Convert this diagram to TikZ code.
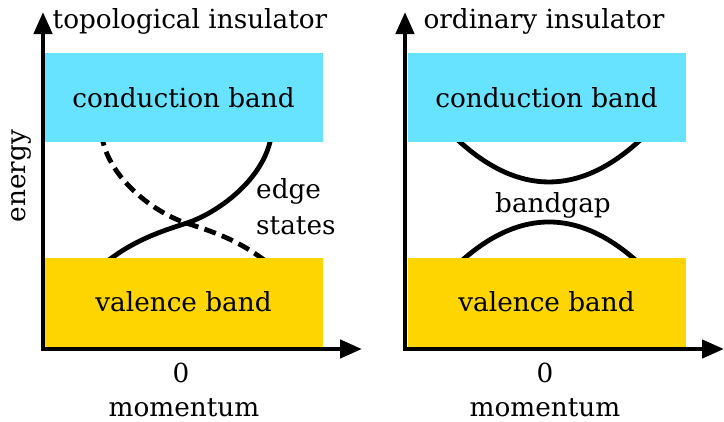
\documentclass[tikz,border=0pt]{standalone}
\usepackage{fontspec}
\setmainfont{DejaVu Serif}
\usetikzlibrary{arrows.meta}
\definecolor{condband}{RGB}{104,227,255}
\definecolor{valband}{RGB}{255,213,0}
\begin{document}
\begin{tikzpicture}[x=1pt,y=-1pt,
  lbl/.style={font=\fontsize{26.3}{30}\selectfont, inner sep=0pt},
  axes/.style={line width=4.5pt, line join=miter,
    {Triangle[length=22pt,width=18pt]}-{Triangle[length=22pt,width=18pt]}},
  curve/.style={line width=4.8pt},
  dashcurve/.style={line width=4.8pt, dash pattern=on 12pt off 6.5pt},
  bandbox/.style={lbl, minimum width=278pt, minimum height=89pt},
]
\useasboundingbox (0,0) rectangle (724,421);

% ---------- topological insulator ----------
\draw[curve] (106,262) -- (113,257)
  .. controls (138,239) and (162,231) .. (187,223)
  .. controls (217,213) and (260,182) .. (270,142) -- (272,134);
\draw[dashcurve] (101,134) -- (103,142)
  .. controls (113,182) and (156,213) .. (186,223)
  .. controls (211,231) and (235,239) .. (260,257) -- (267,262);

\node[bandbox, fill=condband] (cb1) at (183.5,97.5) {conduction band};
\node[bandbox, fill=valband] (vb1) at (183.5,302) {valence band};

\coordinate (y1) at (43,12);
\coordinate (o1) at (43,349);
\coordinate (x1) at (362,349);
\draw[axes] (y1) -- (o1) -- (x1);

\node[lbl, anchor=base] (t1) at (190,28) {topological insulator};
\node[lbl, rotate=90] (en) at (21,176) {energy};
\node[lbl, anchor=base west] (es1) at (256,198) {edge};
\node[lbl, anchor=base west] (es2) at (256,234) {states};
\node[lbl, anchor=base] (z1) at (181,382) {0};
\node[lbl, anchor=base] (m1) at (184,416) {momentum};

% ---------- ordinary insulator ----------
\draw[curve] (452,135) -- (460,142)
  .. controls (519.3,195.3) and (578.7,195.3) .. (638,142) -- (646,135);
\draw[curve] (458,264) -- (466,257)
  .. controls (521.3,210.3) and (576.7,210.3) .. (632,257) -- (640,264);

\node[bandbox, fill=condband] (cb2) at (546.5,97.5) {conduction band};
\node[bandbox, fill=valband] (vb2) at (546.5,302) {valence band};

\coordinate (y2) at (405,12);
\coordinate (o2) at (405,349);
\coordinate (x2) at (724,349);
\draw[axes] (y2) -- (o2) -- (x2);

\node[lbl, anchor=base] (t2) at (544,28) {ordinary insulator};
\node[lbl, anchor=base] (bg) at (553,212) {bandgap};
\node[lbl, anchor=base] (z2) at (545,382) {0};
\node[lbl, anchor=base] (m2) at (545,416) {momentum};
\end{tikzpicture}
\end{document}
